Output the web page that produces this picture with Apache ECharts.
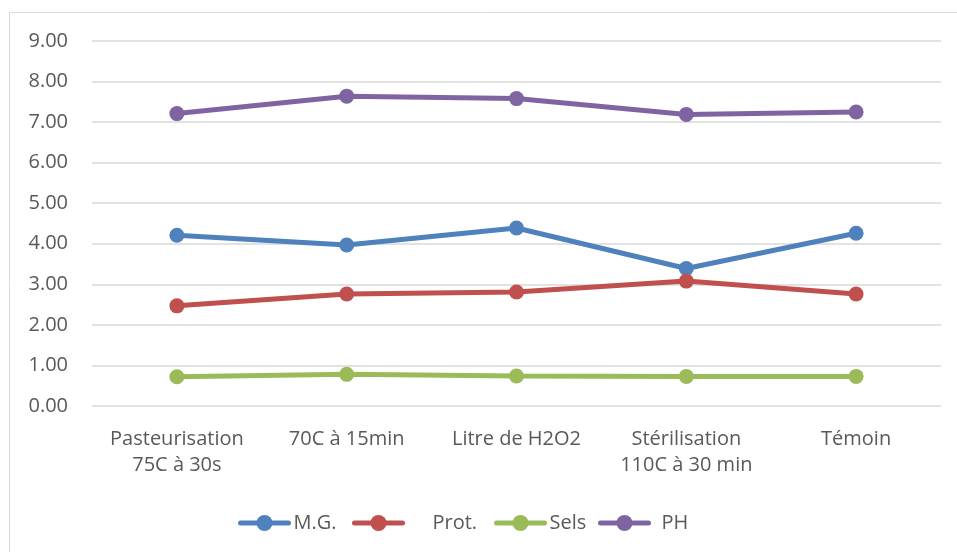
<!DOCTYPE html>
<html>
<head>
<meta charset="utf-8">
<script src="https://cdn.jsdelivr.net/npm/echarts@6/dist/echarts.min.js"></script>
<style>html,body{margin:0;padding:0;background:#fff;}#c{width:957px;height:552px;}</style>
</head>
<body>
<div id="c"></div>
<script>
const categories = ['Pasteurisation\n75C à 30s', '70C à 15min', 'Litre de H2O2', 'Stérilisation\n110C à 30 min', 'Témoin'];
const mg = [4.21, 3.97, 4.39, 3.39, 4.26];
const prot = [2.47, 2.76, 2.81, 3.08, 2.76];
const sels = [0.72, 0.78, 0.74, 0.73, 0.73];
const ph = [7.21, 7.64, 7.58, 7.19, 7.25];
const yTicks = {min: 0, max: 9, interval: 1};

const FONT = 'Open Sans';
const TXT = '#595959';
const colors = ['#4f81bd', '#c0504d', '#9bbb59', '#8064a2'];
const names = ['M.G.', 'Prot.', 'Sels', 'PH'];
const dataSets = [mg, prot, sels, ph];

const chart = echarts.init(document.getElementById('c'));
function mkLegend(name, left, pad) {
  return {
    data: [name], left: left, top: 508, itemWidth: 48, itemHeight: 20, itemGap: 0,
    lineStyle: {width: 5, cap: 'round'},
    textStyle: {fontFamily: FONT, fontSize: 20, color: TXT, padding: [0, 0, 0, pad]}
  };
}
chart.setOption({
  animation: false,
  backgroundColor: '#fff',
  graphic: [{type: 'rect', shape: {x: 9.5, y: 12.5, width: 960, height: 560}, style: {fill: 'none', stroke: '#d9d9d9', lineWidth: 1}}],
  grid: {left: 92, right: 16, top: 41, bottom: 146, containLabel: false},
  legend: [
    mkLegend('M.G.', 233, 0),
    mkLegend('Prot.', 347, 25),
    mkLegend('Sels', 489, 0),
    mkLegend('PH', 593, 8)
  ],
  xAxis: {
    type: 'category', data: categories, boundaryGap: true,
    axisLine: {show: false}, axisTick: {show: false},
    axisLabel: {fontFamily: FONT, fontSize: 20, color: TXT, margin: 20, lineHeight: 26, interval: 0}
  },
  yAxis: {
    type: 'value', min: yTicks.min, max: yTicks.max, interval: yTicks.interval,
    axisLine: {show: false}, axisTick: {show: false},
    axisLabel: {fontFamily: FONT, fontSize: 20, color: TXT, margin: 24, formatter: v => v.toFixed(2)},
    splitLine: {lineStyle: {color: '#d9d9d9', width: 1.5}}
  },
  series: dataSets.map((d, i) => ({
    name: names[i], type: 'line', data: d,
    symbol: 'circle', symbolSize: 15,
    lineStyle: {color: colors[i], width: 5},
    itemStyle: {color: colors[i]}
  }))
});
</script>
</body>
</html>
